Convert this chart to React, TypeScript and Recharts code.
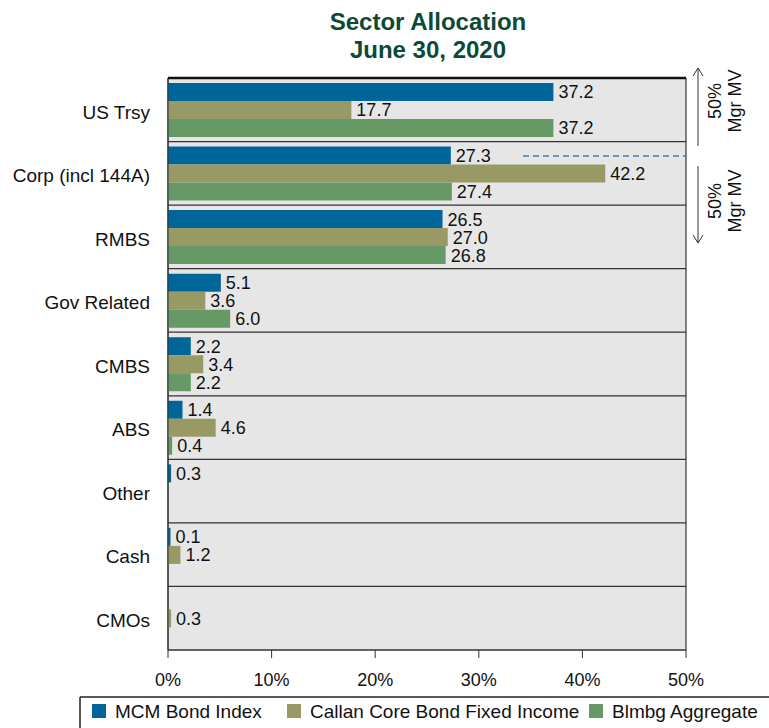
import { BarChart, Bar, XAxis, YAxis, CartesianGrid, LabelList } from 'recharts'

const categories = ['US Trsy', 'Corp (incl 144A)', 'RMBS', 'Gov Related', 'CMBS', 'ABS', 'Other', 'Cash', 'CMOs']
const mcmBondIndex = [37.2, 27.3, 26.5, 5.1, 2.2, 1.4, 0.3, 0.1, null]
const callanCoreBond = [17.7, 42.2, 27.0, 3.6, 3.4, 4.6, null, 1.2, 0.3]
const blmbgAggregate = [37.2, 27.4, 26.8, 6.0, 2.2, 0.4, null, null, null]
const xTicks = [0, 10, 20, 30, 40, 50]

const seriesNames = ['MCM Bond Index', 'Callan Core Bond Fixed Income', 'Blmbg Aggregate']
const colors = ['#006699', '#999966', '#669966']

const data = categories.map((name, i) => ({
  name,
  mcm: mcmBondIndex[i],
  callan: callanCoreBond[i],
  blmbg: blmbgAggregate[i],
}))

const FONT = "'Liberation Sans', Arial, sans-serif"
const fmt = (v: any) => (v == null ? '' : Number(v).toFixed(1))

// plot box, used only for the grid fallback and the annotation overlay
const PLOT = { left: 168, top: 78, width: 518, height: 572 }

function rowLines(props: any) {
  const o = props?.offset ?? PLOT
  const step = o.height / categories.length
  return categories.map((_, i) => o.top + i * step).concat(o.top + o.height)
}

function colLines(props: any) {
  const o = props?.offset ?? PLOT
  return [o.left, o.left + o.width]
}

function Arrow({ x, y1, y2, up }: { x: number; y1: number; y2: number; up: boolean }) {
  const tip = up ? y1 : y2
  const d = up ? 8 : -8
  return (
    <g stroke="#333" strokeWidth={1} fill="none">
      <line x1={x} y1={y1} x2={x} y2={y2} />
      <polyline points={`${x - 5},${tip + d} ${x},${tip} ${x + 5},${tip + d}`} />
    </g>
  )
}

function MgrLabel({ cy }: { cy: number }) {
  return (
    <text transform={`translate(724, ${cy}) rotate(-90)`} textAnchor="middle" fontSize={18} fill="#111" fontFamily={FONT}>
      <tspan x={0} dy={-3}>50%</tspan>
      <tspan x={0} dy={20}>Mgr MV</tspan>
    </text>
  )
}

export default function App() {
  return (
    <div style={{ position: 'absolute', left: 0, top: 0, width: 769, height: 728, fontFamily: FONT, background: '#fff' }}>
      <div style={{ position: 'absolute', left: 228, width: 400, top: 8, textAlign: 'center', color: '#0b4a36', fontWeight: 'bold', fontSize: 24, lineHeight: '28px' }}>
        <div>Sector Allocation</div>
        <div>June 30, 2020</div>
      </div>
      <BarChart
        width={769}
        height={728}
        data={data}
        layout="vertical"
        margin={{ top: 78, right: 83, bottom: 38, left: 0 }}
        barCategoryGap={5}
        barGap={0}
      >
        <CartesianGrid
          fill="#e6e6e6"
          stroke="#333"
          strokeWidth={1.2}
          horizontalCoordinatesGenerator={rowLines}
          verticalCoordinatesGenerator={colLines}
        />
        <XAxis
          type="number"
          domain={[0, 50]}
          ticks={xTicks}
          tickFormatter={(v) => `${v}%`}
          tickSize={8}
          tickMargin={15}
          height={40}
          stroke="#333"
          tick={{ fontSize: 18, fill: '#111', fontFamily: FONT }}
        />
        <YAxis
          type="category"
          dataKey="name"
          width={168}
          tickLine={false}
          tickSize={0}
          tickMargin={18}
          stroke="#333"
          tick={{ fontSize: 19, fill: '#111', fontFamily: FONT, dy: 2 }}
        />
        {(['mcm', 'callan', 'blmbg'] as const).map((key, i) => (
          <Bar key={key} dataKey={key} name={seriesNames[i]} fill={colors[i]} minPointSize={2.5} isAnimationActive={false}>
            <LabelList dataKey={key} position="right" formatter={fmt} style={{ fontSize: 18, fill: '#111', fontFamily: FONT }} />
          </Bar>
        ))}
      </BarChart>
      <svg width={769} height={728} style={{ position: 'absolute', left: 0, top: 0, pointerEvents: 'none' }}>
        <line x1={PLOT.left} y1={PLOT.top} x2={PLOT.left + PLOT.width} y2={PLOT.top} stroke="#111" strokeWidth={2.5} />
        <line x1={523} y1={156} x2={686} y2={156} stroke="#3f7fb0" strokeWidth={1.3} strokeDasharray="6 4" />
        <Arrow x={698} y1={68} y2={146} up />
        <Arrow x={698} y1={166} y2={243} up={false} />
        <MgrLabel cy={101} />
        <MgrLabel cy={201} />
        <line x1={80} y1={697} x2={769} y2={697} stroke="#222" strokeWidth={1.5} />
        <line x1={80} y1={697} x2={80} y2={728} stroke="#222" strokeWidth={1.5} />
        {seriesNames.map((n, i) => {
          const x = [92, 287, 589][i]
          return (
            <g key={n}>
              <rect x={x} y={704} width={14} height={14} fill={colors[i]} />
              <text x={x + 23} y={718} fontSize={19} fill="#111" fontFamily={FONT}>{n}</text>
            </g>
          )
        })}
      </svg>
    </div>
  )
}
